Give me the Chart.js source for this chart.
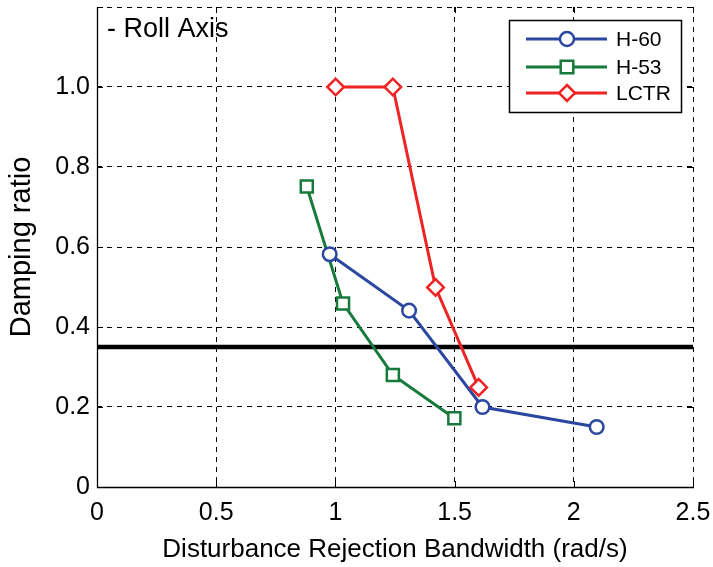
<!DOCTYPE html>
<html><head><meta charset="utf-8">
<script src="https://cdn.jsdelivr.net/npm/chart.js@4/dist/chart.umd.min.js"></script>
<style>html,body{margin:0;padding:0;background:#fff}#wrap{width:713px;height:567px;position:relative}</style>
</head><body><div id="wrap"><canvas id="c" width="713" height="567"></canvas></div>
<script>
const h60X = [0.976, 1.309, 1.617, 2.096];
const h60Y = [0.582, 0.441, 0.200, 0.150];
const h53X = [0.880, 1.032, 1.241, 1.499];
const h53Y = [0.751, 0.459, 0.280, 0.172];
const lctrX = [1.001, 1.241, 1.420, 1.601];
const lctrY = [1.000, 1.000, 0.499, 0.249];
const refLineX = [0, 2.5];
const refLineY = [0.35, 0.35];
const xTicks = [0, 0.5, 1, 1.5, 2, 2.5];
const yTicks = [0, 0.2, 0.4, 0.6, 0.8, 1.0, 1.2];
const seriesNames = ['H-60', 'H-53', 'LCTR'];
const FONT = '"Liberation Sans", Arial, sans-serif';

function pts(xs, ys){ return xs.map((x,i)=>({x:x, y:ys[i]})); }

const boxPlugin = {
  id:'box',
  afterDraw(chart){
    const {ctx, chartArea:a, scales:{x, y}} = chart;
    ctx.save();
    ctx.strokeStyle = '#000';
    ctx.lineWidth = 1;
    ctx.beginPath();
    xTicks.forEach(v=>{ const p = Math.round(x.getPixelForValue(v))+0.5;
      ctx.moveTo(p, a.bottom); ctx.lineTo(p, a.bottom-6);
      ctx.moveTo(p, a.top); ctx.lineTo(p, a.top+6); });
    yTicks.forEach(v=>{ const p = Math.round(y.getPixelForValue(v))+0.5;
      ctx.moveTo(a.left, p); ctx.lineTo(a.left+6, p);
      ctx.moveTo(a.right, p); ctx.lineTo(a.right-6, p); });
    ctx.stroke();
    ctx.lineWidth = 1.3;
    ctx.beginPath();
    const L = Math.round(a.left)+0.5, B = Math.round(a.bottom)+0.5;
    ctx.moveTo(L, Math.round(a.top)); ctx.lineTo(L, B); ctx.lineTo(Math.round(a.right)+1, B);
    ctx.stroke();
    ctx.fillStyle = '#000';
    ctx.font = '27px ' + FONT;
    ctx.textBaseline = 'alphabetic';
    ctx.textAlign = 'left';
    ctx.fillText('- Roll Axis', a.left + 10, 37);
    const lx = 509, ly = 20, lw = 172, lh = 92;
    ctx.fillStyle = '#fff';
    ctx.fillRect(lx, ly, lw, lh);
    ctx.lineWidth = 1.5;
    ctx.strokeStyle = '#000';
    ctx.strokeRect(lx+0.5, ly+0.5, lw, lh);
    const rows = [39, 67, 93];
    chart.data.datasets.slice(0,3).forEach((ds, i)=>{
      ctx.strokeStyle = ds.borderColor;
      ctx.lineWidth = 3;
      ctx.beginPath(); ctx.moveTo(526, rows[i]); ctx.lineTo(607, rows[i]); ctx.stroke();
      ctx.lineWidth = 2.5;
      ctx.fillStyle = '#fff';
      const cx = 567, cy = rows[i];
      ctx.beginPath();
      if (ds.pointStyle === 'circle') { ctx.arc(cx, cy, 7, 0, Math.PI*2); }
      else if (ds.pointStyle === 'rect') { ctx.rect(cx-6.3, cy-6.3, 12.6, 12.6); }
      else { ctx.moveTo(cx, cy-8); ctx.lineTo(cx+8, cy); ctx.lineTo(cx, cy+8); ctx.lineTo(cx-8, cy); ctx.closePath(); }
      ctx.fill(); ctx.stroke();
      ctx.fillStyle = '#000';
      ctx.font = '21px ' + FONT;
      ctx.textBaseline = 'middle';
      ctx.fillText(ds.label, 616, cy+1);
    });
    ctx.restore();
  }
};

new Chart(document.getElementById('c'), {
  type: 'scatter',
  data: {
    datasets: [
      {label: seriesNames[0], data: pts(h60X, h60Y), showLine:true, borderColor:'#2b47a0', backgroundColor:'#fff',
        borderWidth:3, pointStyle:'circle', pointRadius:6.8, pointBorderWidth:2.5, order:1},
      {label: seriesNames[1], data: pts(h53X, h53Y), showLine:true, borderColor:'#157a3a', backgroundColor:'#fff',
        borderWidth:3, pointStyle:'rect', pointRadius:8.5, pointBorderWidth:2.5, order:2},
      {label: seriesNames[2], data: pts(lctrX, lctrY), showLine:true, borderColor:'#ee2424', backgroundColor:'#fff',
        borderWidth:3, pointStyle:'rectRot', pointRadius:8.3, pointBorderWidth:2.5, order:0},
      {label: 'ref', data: pts(refLineX, refLineY), showLine:true, borderColor:'#000', backgroundColor:'#000',
        borderWidth:4.5, pointRadius:0, order:3}
    ]
  },
  options: {
    responsive:false, animation:false, devicePixelRatio:1,
    layout:{autoPadding:false, padding:{top:7, right:20, left:0, bottom:0}},
    plugins:{legend:{display:false}, tooltip:{enabled:false}},
    scales:{
      x:{type:'linear', min:0, max:2.5,
        afterBuildTicks(s){ s.ticks = xTicks.map(v=>({value:v})); },
        afterFit(s){ s.height = 80; s.paddingLeft = 0; s.paddingRight = 0; },
        grid:{color:'#000', lineWidth:1, drawTicks:false},
        border:{display:false, dash:[5,5]},
        ticks:{color:'#000', font:{family:FONT, size:25}, padding:11, maxRotation:0,
          callback:(v)=>String(v)},
        title:{display:true, text:'Disturbance Rejection Bandwidth (rad/s)', color:'#000', font:{family:FONT, size:26}, padding:{top:0, bottom:2}}
      },
      y:{type:'linear', min:0, max:1.2,
        afterBuildTicks(s){ s.ticks = yTicks.map(v=>({value:v})); },
        afterFit(s){ s.width = 97; s.paddingTop = 0; s.paddingBottom = 0; },
        grid:{color:'#000', lineWidth:1, drawTicks:false},
        border:{display:false, dash:[5,5]},
        ticks:{color:'#000', font:{family:FONT, size:25}, padding:7,
          callback:(v)=> v===0 ? '0' : (v>1.1 ? '' : v.toFixed(1))},
        title:{display:true, text:'Damping ratio', color:'#000', font:{family:FONT, size:29}, padding:{top:5, bottom:0}}
      }
    }
  },
  plugins:[boxPlugin]
});
</script></body></html>
